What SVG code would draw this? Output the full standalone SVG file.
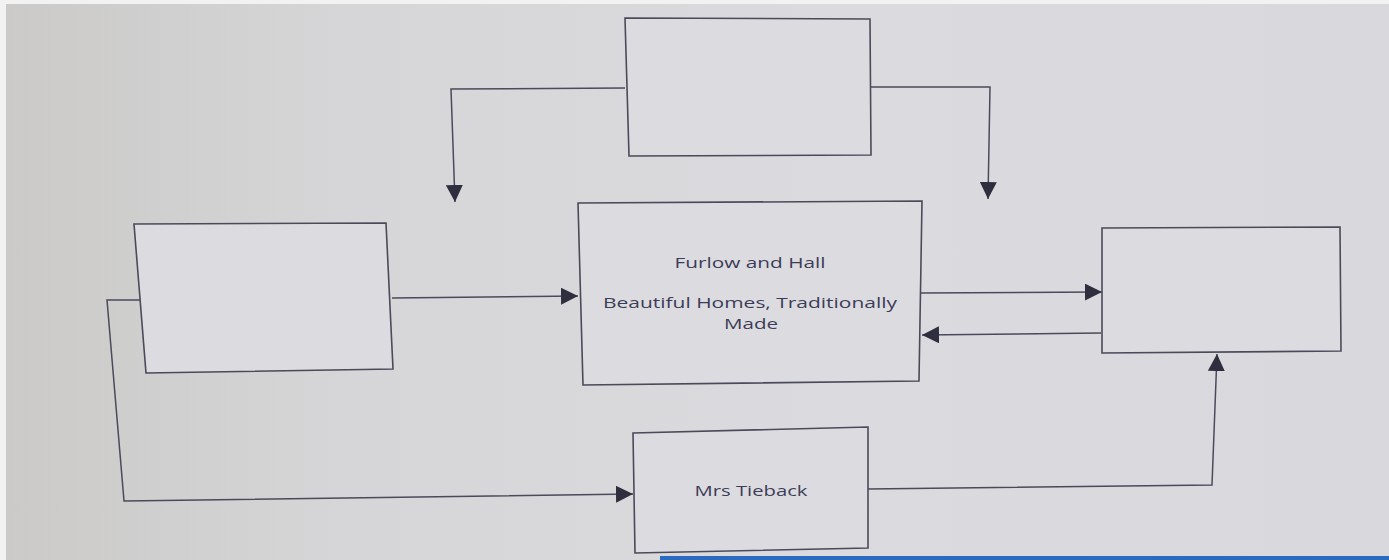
<svg xmlns="http://www.w3.org/2000/svg" width="1389" height="560" viewBox="0 0 1389 560">
  <defs>
    <linearGradient id="bg" x1="0" y1="0" x2="1" y2="0">
      <stop offset="0" stop-color="#cbcac8"/>
      <stop offset="0.25" stop-color="#d6d6d8"/>
      <stop offset="0.6" stop-color="#dbdbdf"/>
      <stop offset="1" stop-color="#d9d9dd"/>
    </linearGradient>
    <marker id="ah" viewBox="0 0 10 10" refX="10" refY="5" markerWidth="17" markerHeight="17" markerUnits="userSpaceOnUse" orient="auto">
      <path d="M0,0 L10,5 L0,10 Z" fill="#2e2e3e"/>
    </marker>
    <style>
      .box { fill: #dcdce0; stroke: #4a4a5a; stroke-width: 1.6; }
      .con { fill: none; stroke: #4a4a5c; stroke-width: 1.5; marker-end: url(#ah); }
      .lbl { font-family: "Open Sans", "Liberation Sans", sans-serif; font-size: 15px; fill: #3c3c58; text-anchor: middle; }
    </style>
  </defs>
  <rect x="0" y="0" width="1389" height="560" fill="#f2f2f2"/>
  <rect x="6" y="4" width="1383" height="556" fill="url(#bg)"/>
  <rect x="660" y="556" width="729" height="4" fill="#2a6bc0"/>

  <g id="connectors">
    <path class="con" d="M625,88 L451,89 L455,202"/>
    <path class="con" d="M871,87 L990,87 L988,199"/>
    <path class="con" d="M392,298 L578,296"/>
    <path class="con" d="M920,293 L1102,292"/>
    <path class="con" d="M1101,333 L922,335"/>
    <path class="con" d="M140,300 L107,300 L124,501 L633,494"/>
    <path class="con" d="M868,489 L1212,485 L1217,354"/>
  </g>

  <g id="node-top">
    <polygon class="box" points="625,18 870,19 871,155 629,156"/>
  </g>
  <g id="node-left">
    <polygon class="box" points="134,224 386,223 393,369 146,373"/>
  </g>
  <g id="node-center">
    <polygon class="box" points="578,203 922,201 919,381 583,385"/>
    <text class="lbl" x="750" y="268" textLength="151" lengthAdjust="spacingAndGlyphs">Furlow and Hall</text>
    <text class="lbl" x="750" y="308" textLength="294" lengthAdjust="spacingAndGlyphs">Beautiful Homes, Traditionally</text>
    <text class="lbl" x="751" y="329" textLength="54" lengthAdjust="spacingAndGlyphs">Made</text>
  </g>
  <g id="node-right">
    <polygon class="box" points="1102,228 1340,227 1341,351 1102,353"/>
  </g>
  <g id="node-tieback">
    <polygon class="box" points="633,433 868,427 868,548 635,553"/>
    <text class="lbl" x="751" y="496" textLength="113" lengthAdjust="spacingAndGlyphs">Mrs Tieback</text>
  </g>
</svg>
